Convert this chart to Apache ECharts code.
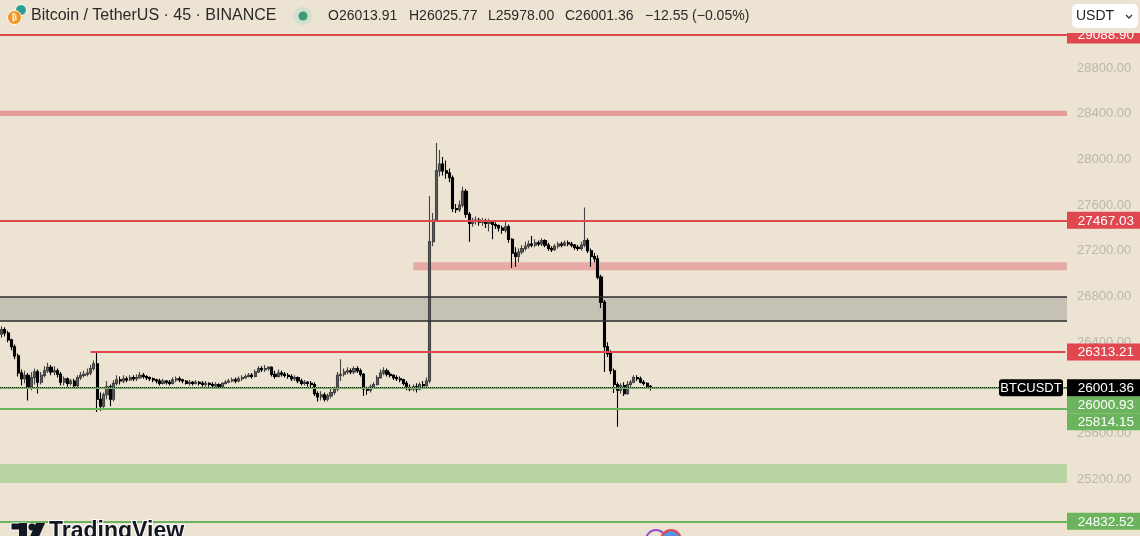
<!DOCTYPE html>
<html>
<head>
<meta charset="utf-8">
<title>Bitcoin / TetherUS · 45 · BINANCE</title>
<script src="https://cdn.jsdelivr.net/npm/echarts@6.0.0/dist/echarts.min.js"></script>
<style>
  html, body { margin: 0; padding: 0; background: #ECE3D2; }
  #chart { width: 1140px; height: 536px; }
</style>
</head>
<body>
<div id="chart"></div>
<script>
// 45 min candles, [open, close, low, high]
var candles = [
  [26470,26510,26440,26540],[26510,26480,26450,26530],[26480,26420,26400,26500],[26420,26360,26330,26430],
  [26360,26280,26250,26380],[26280,26130,26100,26300],[26130,26080,26020,26160],[26080,26110,26040,26150],
  [26110,26010,25890,26130],[26010,26090,25980,26140],[26090,26140,26030,26170],[26140,26050,25950,26160],
  [26050,26110,26030,26140],[26110,26150,26090,26190],[26150,26180,26130,26220],[26180,26140,26110,26200],
  [26140,26150,26110,26190],[26150,26120,26090,26170],[26120,26050,26020,26140],[26050,26080,26020,26100],
  [26080,26040,26010,26090],[26040,26060,26020,26080],[26060,26020,25990,26080],[26020,26090,26000,26110],
  [26090,26110,26070,26140],[26110,26120,26090,26150],[26120,26130,26100,26170],[26130,26170,26110,26200],
  [26170,26210,26150,26240],[26210,25900,25790,26314],[25900,25840,25800,25960],[25840,25940,25820,25960],
  [25940,26010,25900,26060],[26010,25900,25840,26030],[25900,26040,25880,26070],[26040,26070,26020,26110],
  [26070,26060,26030,26100],[26060,26080,26040,26110],[26080,26070,26050,26100],[26070,26090,26060,26110],
  [26090,26080,26060,26110],[26080,26090,26060,26120],[26090,26110,26080,26140],[26110,26100,26080,26130],
  [26100,26090,26070,26110],[26090,26080,26060,26100],[26080,26070,26050,26090],[26070,26060,26040,26080],
  [26060,26040,26020,26080],[26040,26060,26030,26080],[26060,26050,26030,26070],[26050,26040,26020,26070],
  [26040,26070,26030,26090],[26070,26080,26050,26100],[26080,26070,26050,26100],[26070,26060,26040,26080],
  [26060,26040,26030,26070],[26040,26050,26020,26070],[26050,26040,26020,26060],[26040,26050,26030,26070],
  [26050,26040,26020,26060],[26040,26030,26010,26060],[26030,26040,26010,26060],[26040,26030,26010,26050],
  [26030,26020,26000,26050],[26020,26030,26000,26050],[26030,26010,25990,26040],[26010,26040,26000,26050],
  [26040,26050,26030,26070],[26050,26060,26040,26080],[26060,26070,26050,26090],[26070,26060,26040,26090],
  [26060,26080,26050,26100],[26080,26090,26060,26110],[26090,26100,26080,26120],[26100,26110,26090,26130],
  [26110,26100,26080,26130],[26100,26140,26090,26160],[26140,26170,26130,26190],[26170,26160,26140,26190],
  [26160,26170,26140,26200],[26170,26180,26150,26190],[26180,26120,26100,26190],[26120,26100,26080,26150],
  [26100,26130,26090,26160],[26130,26120,26100,26150],[26120,26110,26090,26140],[26110,26100,26080,26130],
  [26100,26080,26060,26120],[26080,26090,26060,26110],[26090,26060,26040,26100],[26060,26040,26020,26080],
  [26040,26050,26020,26070],[26050,26040,26010,26060],[26040,26030,26000,26060],[26030,25950,25930,26050],
  [25950,25920,25880,25970],[25920,25940,25890,25970],[25940,25900,25880,25960],[25900,25930,25880,25950],
  [25930,25960,25910,25990],[25960,25990,25940,26010],[25990,26110,25970,26140],[26110,26120,26060,26250],
  [26120,26140,26100,26170],[26140,26150,26120,26180],[26150,26140,26120,26170],[26140,26170,26120,26190],
  [26170,26150,26130,26190],[26150,26120,26100,26170],[26120,25990,25930,26130],[25990,25980,25940,26010],
  [25980,26010,25960,26030],[26010,26030,25990,26050],[26030,26090,26020,26110],[26090,26130,26080,26160],
  [26130,26150,26110,26180],[26150,26120,26100,26170],[26120,26110,26090,26140],[26110,26090,26070,26120],
  [26090,26080,26060,26110],[26080,26070,26050,26100],[26070,26040,26020,26080],[26040,26000,25980,26060],
  [26000,25990,25970,26030],[25990,26010,25970,26030],[26010,25990,25960,26040],[25990,26030,25980,26050],
  [26030,26020,26000,26060],[26020,26060,26010,26090],[26060,27280,26040,27680],[27280,27470,27240,27530],
  [27470,27900,27460,28144],[27900,27960,27850,28082],[27960,27900,27860,28021],[27900,27880,27830,27990],
  [27880,27840,27800,27920],[27840,27570,27540,27860],[27570,27560,27530,27610],[27560,27600,27540,27640],
  [27600,27720,27580,27760],[27720,27520,27490,27740],[27520,27440,27280,27540],[27440,27460,27410,27490],
  [27460,27470,27430,27500],[27470,27450,27420,27490],[27450,27460,27420,27490],[27460,27440,27400,27480],
  [27440,27450,27370,27480],[27450,27430,27300,27470],[27430,27420,27390,27450],[27420,27400,27370,27430],
  [27400,27380,27350,27420],[27380,27410,27360,27470],[27410,27300,27270,27430],[27300,27180,27050,27310],
  [27180,27150,27060,27230],[27150,27190,27100,27220],[27190,27220,27170,27250],[27220,27240,27200,27280],
  [27240,27260,27220,27290],[27260,27250,27230,27330],[27250,27270,27230,27300],[27270,27260,27240,27290],
  [27260,27290,27240,27310],[27290,27250,27230,27300],[27250,27220,27200,27270],[27220,27210,27190,27240],
  [27210,27240,27200,27260],[27240,27260,27220,27280],[27260,27250,27230,27280],[27250,27270,27240,27290],
  [27270,27260,27240,27290],[27260,27250,27230,27280],[27250,27230,27210,27260],[27230,27220,27200,27250],
  [27220,27250,27200,27280],[27250,27290,27230,27580],[27290,27200,27180,27310],[27200,27150,27060,27220],
  [27150,27130,27100,27180],[27130,26970,26950,27160],[26970,26750,26700,26990],[26750,26360,26140,26770],
  [26360,26300,26270,26400],[26300,26150,26120,26330],[26150,26030,25955,26170],[26030,25980,25660,26050],
  [25980,26020,25950,26040],[26020,25950,25930,26050],[25950,26030,25940,26060],[26030,26050,26010,26070],
  [26050,26090,26040,26110],[26090,26080,26060,26110],[26080,26050,26040,26100],[26050,26040,26020,26070],
  [26040,26014,26000,26050],[26013.91,26001.36,25978.00,26025.77]
];

var lastPrice = 26001.36;
var header = ['O26013.91', 'H26025.77', 'L25978.00', 'C26001.36', '\u221212.55 (\u22120.05%)'];
var priceTicks = [25200, 25600, 26000, 26400, 26800, 27200, 27600, 28000, 28400, 28800, 29200];
var priceMin = 24703.7;
var priceMax = 29395.2;

// drawn levels
var redLines = [29088.90, 27467.03];
var redLineShort = 26313.21;     // starts at candle 27
var greenLines = [26000.93, 25814.15, 24832.52];
var redBand = [28380, 28425];
var redZone = [27030, 27100];     // starts at candle 125
var grayZone = [26585, 26796];
var greenZone = [25168, 25334];

var totalSlots = 324;
var cats = [];
var t0 = Date.UTC(2023, 8, 6, 6, 0);
for (var i = 0; i < totalSlots; i++) {
  var d = new Date(t0 + i * 45 * 60000);
  cats.push((d.getUTCMonth() + 1) + '/' + d.getUTCDate() + ' ' + d.getUTCHours() + ':' + ('0' + d.getUTCMinutes()).slice(-2));
}

var BG = '#ECE3D2';
var RED = '#E0474F';
var GREEN = '#6BB35C';
var FONT = 'Liberation Sans, Arial, sans-serif';

var chart = echarts.init(document.getElementById('chart'));

var markLines = [];
redLines.forEach(function (v) {
  markLines.push({ yAxis: v, lineStyle: { color: RED, width: 2, type: 'solid' } });
});
markLines.push([
  { xAxis: cats[27], yAxis: redLineShort, lineStyle: { color: RED, width: 2, type: 'solid' } },
  { xAxis: cats[totalSlots - 1], yAxis: redLineShort }
]);
markLines.push({ yAxis: grayZone[0], lineStyle: { color: '#2b2b2b', width: 1.5, type: 'solid' } });
markLines.push({ yAxis: grayZone[1], lineStyle: { color: '#2b2b2b', width: 1.5, type: 'solid' } });
greenLines.forEach(function (v) {
  markLines.push({ yAxis: v, lineStyle: { color: GREEN, width: 2, type: 'solid' } });
});
markLines.push({ yAxis: lastPrice, lineStyle: { color: '#1d2b1a', width: 1, type: 'dotted' } });

var option = {
  animation: false,
  backgroundColor: BG,
  grid: { left: 0, right: 73, top: 0, bottom: 0 },
  xAxis: {
    type: 'category',
    data: cats,
    show: false
  },
  yAxis: {
    type: 'value',
    position: 'right',
    min: priceMin,
    max: priceMax,
    axisLine: { show: false },
    axisTick: { show: false },
    splitLine: { show: false },
    axisLabel: {
      margin: 10,
      color: '#BAB7AF',
      fontFamily: FONT,
      fontSize: 13,
      customValues: priceTicks,
      formatter: function (v) { return v.toFixed(2); }
    }
  },
  series: [{
    type: 'candlestick',
    data: candles,
    barWidth: 2.6,
    itemStyle: {
      color: '#5c5c5c',
      color0: '#050505',
      borderColor: '#444444',
      borderColor0: '#000000',
      borderWidth: 1.1
    },
    markArea: {
      silent: true,
      data: [
        [{ yAxis: redBand[0], itemStyle: { color: '#E49C98' } }, { yAxis: redBand[1] }],
        [{ xAxis: cats[125], yAxis: redZone[0], itemStyle: { color: '#E7AAA4' } }, { yAxis: redZone[1] }],
        [{ yAxis: grayZone[0], itemStyle: { color: '#C6C1B5' } }, { yAxis: grayZone[1] }],
        [{ yAxis: greenZone[0], itemStyle: { color: '#B8D4A2' } }, { yAxis: greenZone[1] }]
      ]
    },
    markLine: {
      silent: true,
      symbol: 'none',
      label: { show: false },
      data: markLines
    }
  }]
};
chart.setOption(option);

function py(v) { return chart.convertToPixel({ yAxisIndex: 0 }, v); }

function tag(yc, text, bg, out) {
  out.push({
    type: 'rect', z: 100,
    shape: { x: 1067, y: yc - 8.5, width: 73, height: 17 },
    style: { fill: bg }
  });
  out.push({
    type: 'text', z: 101,
    style: {
      text: text, x: 1134, y: yc + 0.5,
      align: 'right', verticalAlign: 'middle', textAlign: 'right', textVerticalAlign: 'middle',
      fill: '#ffffff', font: '13.5px ' + FONT
    }
  });
}

var g = [];
tag(py(redLines[0]), redLines[0].toFixed(2), RED, g);
tag(py(redLines[1]), redLines[1].toFixed(2), RED, g);
tag(py(redLineShort), redLineShort.toFixed(2), RED, g);
var yl = py(lastPrice);
tag(yl + 17, greenLines[0].toFixed(2), GREEN, g);
tag(yl + 34, greenLines[1].toFixed(2), GREEN, g);
tag(py(greenLines[2]), greenLines[2].toFixed(2), GREEN, g);
tag(yl, lastPrice.toFixed(2), '#000000', g);
// symbol tag
g.push({ type: 'rect', z: 100, shape: { x: 999, y: yl - 8.5, width: 64, height: 17, r: 3 }, style: { fill: '#000000' } });
g.push({ type: 'text', z: 101, style: { text: 'BTCUSDT', x: 1031, y: yl + 0.5, align: 'center', verticalAlign: 'middle', textAlign: 'center', textVerticalAlign: 'middle', fill: '#ffffff', font: '13px ' + FONT } });

// top right cover + currency box
g.push({ type: 'rect', z: 110, shape: { x: 1067, y: 0, width: 73, height: 33 }, style: { fill: BG } });
g.push({ type: 'rect', z: 111, shape: { x: 1072, y: 4, width: 66, height: 24, r: 5 }, style: { fill: '#ffffff' } });
g.push({ type: 'text', z: 112, style: { text: 'USDT', x: 1076, y: 16, align: 'left', verticalAlign: 'middle', textAlign: 'left', textVerticalAlign: 'middle', fill: '#222222', font: '14px ' + FONT } });
g.push({ type: 'polyline', z: 112, shape: { points: [[1126, 15], [1129, 18], [1132, 15]] }, style: { stroke: '#333333', lineWidth: 1.3, fill: null } });

// header
g.push({ type: 'circle', z: 120, shape: { cx: 21, cy: 10, r: 5.5 }, style: { fill: '#2E9C8E', stroke: '#ffffff', lineWidth: 1 } });
g.push({ type: 'circle', z: 121, shape: { cx: 14.5, cy: 17.5, r: 7 }, style: { fill: '#F5931B', stroke: '#ffffff', lineWidth: 1 } });
g.push({ type: 'text', z: 122, style: { text: '\u20bf', x: 14.5, y: 18, align: 'center', verticalAlign: 'middle', textAlign: 'center', textVerticalAlign: 'middle', fill: '#ffffff', font: 'bold 8px DejaVu Sans' } });
g.push({ type: 'text', z: 120, style: { text: 'Bitcoin / TetherUS \u00b7 45 \u00b7 BINANCE', x: 31, y: 16, align: 'left', verticalAlign: 'middle', textAlign: 'left', textVerticalAlign: 'middle', fill: '#2A2A2A', font: '16px ' + FONT } });
g.push({ type: 'circle', z: 120, shape: { cx: 303, cy: 16, r: 9.5 }, style: { fill: '#D4E1CC' } });
g.push({ type: 'circle', z: 121, shape: { cx: 303, cy: 16, r: 4.5 }, style: { fill: '#3C9A7C' } });
var hx = [328, 409, 488, 565, 645];
header.forEach(function (s, k) {
  g.push({ type: 'text', z: 120, style: { text: s, x: hx[k], y: 16, align: 'left', verticalAlign: 'middle', textAlign: 'left', textVerticalAlign: 'middle', fill: '#2A2A2A', font: '14px ' + FONT } });
});

// watermark at the bottom (cut off)
g.push({ type: 'rect', z: 120, shape: { x: 11, y: 523, width: 16, height: 7 }, style: { fill: '#131722', stroke: '#ffffff', lineWidth: 1 } });
g.push({ type: 'rect', z: 120, shape: { x: 19, y: 523, width: 8, height: 16 }, style: { fill: '#131722' } });
g.push({ type: 'circle', z: 120, shape: { cx: 32, cy: 527, r: 3.5 }, style: { fill: '#131722' } });
g.push({ type: 'polygon', z: 120, shape: { points: [[36, 523], [45, 523], [37, 541], [28, 541]] }, style: { fill: '#131722' } });
g.push({ type: 'text', z: 120, style: { text: 'TradingView', x: 49, y: 520, align: 'left', verticalAlign: 'top', textAlign: 'left', textVerticalAlign: 'top', fill: '#131722', stroke: '#ffffff', lineWidth: 2, font: 'bold 23px ' + FONT } });
g.push({ type: 'circle', z: 120, shape: { cx: 656, cy: 540, r: 10 }, style: { fill: null, stroke: '#9B4FD0', lineWidth: 2 } });
g.push({ type: 'circle', z: 121, shape: { cx: 671, cy: 540, r: 10 }, style: { fill: '#5B8FE0', stroke: '#E5484D', lineWidth: 2 } });

chart.setOption({ graphic: g });
</script>
</body>
</html>
